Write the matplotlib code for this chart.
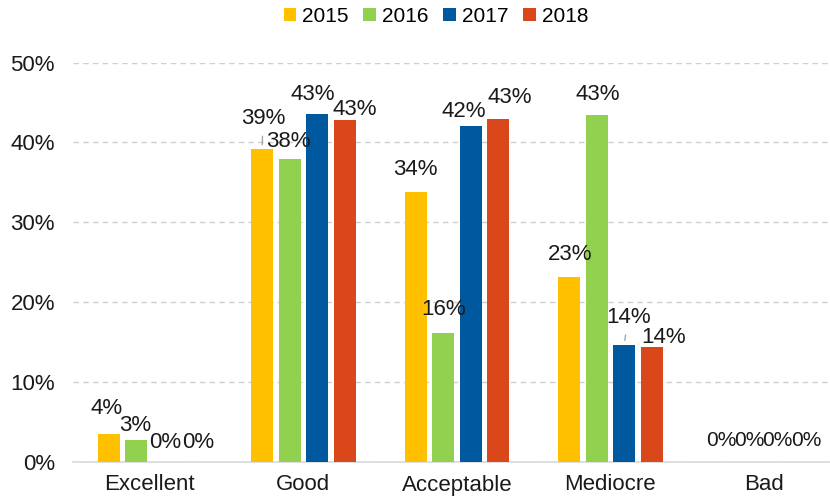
import numpy as np
import matplotlib
matplotlib.use('Agg')
import matplotlib.pyplot as plt

plt.rcParams['font.family'] = ['Liberation Sans', 'DejaVu Sans']

categories = ['Excellent', 'Good', 'Acceptable', 'Mediocre', 'Bad']
years = ['2015', '2016', '2017', '2018']
v2015 = [3.5, 39.2, 33.8, 23.2, 0.0]
v2016 = [2.8, 37.9, 16.2, 43.4, 0.0]
v2017 = [0.0, 43.5, 42.0, 14.7, 0.0]
v2018 = [0.0, 42.8, 42.9, 14.4, 0.0]
labels2015 = ['4%', '39%', '34%', '23%', '0%']
labels2016 = ['3%', '38%', '16%', '43%', '0%']
labels2017 = ['0%', '43%', '42%', '14%', '0%']
labels2018 = ['0%', '43%', '43%', '14%', '0%']

colors = ['#FFC000', '#92D050', '#00589E', '#DA471B']
series = [v2015, v2016, v2017, v2018]
series_labels = [labels2015, labels2016, labels2017, labels2018]

# label offsets in pixels (dx, dy) from bar top, Excel-style placement
label_off = {
    (0, 0): (-2, 26), (0, 1): (-1, 14), (0, 2): (2, 20), (0, 3): (7, 20),
    (1, 0): (1, 30), (1, 1): (-1, 18), (1, 2): (-4, 20), (1, 3): (10, 11),
    (2, 0): (0, 22), (2, 1): (0, 23), (2, 2): (-7, 15), (2, 3): (12, 22),
    (3, 0): (1, 22), (3, 1): (1, 21), (3, 2): (4, 27), (3, 3): (12, 9),
    (4, 0): (-1, 21), (4, 1): (-1, 21), (4, 2): (0, 21), (4, 3): (1, 21),
}
leaders = [(1, 0), (3, 2)]

fig = plt.figure(figsize=(8.3, 5.01), dpi=100)
ax = fig.add_axes([73 / 830, 39 / 501, 757 / 830, 399.5 / 501])

x = np.arange(len(categories))
step = 0.179
width = 0.143
for i, (vals, labs, col) in enumerate(zip(series, series_labels, colors)):
    pos = x + (i - 1.5) * step
    ax.bar(pos, np.array(vals) / 100, width, color=col, label=years[i], zorder=3)
    for j in range(len(categories)):
        dx, dy = label_off.get((j, i), (0, 21))
        kw = {}
        if (j, i) in leaders:
            kw['arrowprops'] = dict(arrowstyle='-', color='#A6A6A6', lw=1,
                                    shrinkA=3, shrinkB=3)
        fs = 15 if j == 4 else 16
        ax.annotate(labs[j], (pos[j], vals[j] / 100), xytext=(dx, dy),
                    textcoords='offset pixels', ha='center', va='center',
                    fontsize=fs, color='#1a1a1a', zorder=4, **kw)

ax.set_xlim(-0.5, 4.43)
ax.set_ylim(0, 0.5)
ax.set_yticks(np.arange(0, 0.51, 0.1))
ax.set_yticklabels(['%d%%' % (t * 100) for t in np.arange(0, 0.51, 0.1)])
ax.set_xticks(x)
ax.set_xticklabels(categories)
ax.tick_params(axis='both', length=0, labelsize=16, colors='#1a1a1a')
ax.tick_params(axis='y', pad=13)
ax.tick_params(axis='x', pad=9)
ax.yaxis.grid(True, linestyle=(0, (4, 3)), color='#CFCFCF', lw=1, zorder=0)
for s in ['top', 'right', 'left']:
    ax.spines[s].set_visible(False)
ax.spines['bottom'].set_color('#D9D9D9')
ax.spines['bottom'].set_linewidth(1.2)

fig.legend(loc='center', bbox_to_anchor=(436 / 830, 1 - 16 / 501), ncol=4,
           frameon=False, fontsize=15, handlelength=0.6, handleheight=0.6,
           handletextpad=0.3, columnspacing=0.7, borderaxespad=0)

fig.savefig('out.png', dpi=100)
